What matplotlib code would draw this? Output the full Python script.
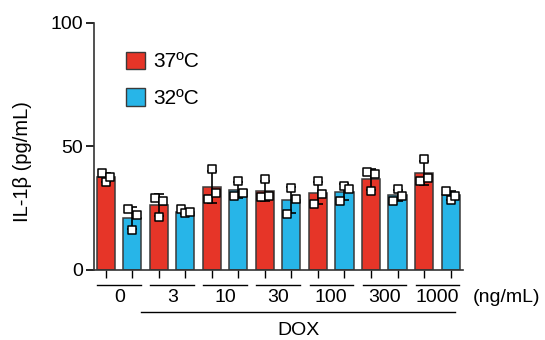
import numpy as np
import matplotlib
matplotlib.use("Agg")
import matplotlib.pyplot as plt
from matplotlib.patches import Patch

plt.rcParams['font.family'] = ['Liberation Sans', 'DejaVu Sans']

doses = ["0", "3", "10", "30", "100", "300", "1000"]
series = ["37ºC", "32ºC"]

# bar heights (mean)
mean_37 = [37.6, 26.3, 33.5, 32.0, 31.2, 36.8, 39.3]
mean_32 = [21.0, 23.6, 32.4, 28.3, 31.5, 30.2, 30.2]

# individual replicate points (left, middle, right)
pts_37 = [[39.4, 35.8, 37.5],
          [29.3, 21.3, 28.1],
          [28.6, 40.8, 31.3],
          [29.7, 36.8, 30.1],
          [26.7, 35.9, 30.8],
          [39.8, 32.0, 38.7],
          [36.0, 44.8, 37.4]]
pts_32 = [[24.7, 16.2, 22.3],
          [24.7, 22.9, 23.5],
          [30.0, 35.9, 31.3],
          [22.7, 33.1, 28.7],
          [28.1, 34.0, 32.8],
          [28.1, 32.7, 30.1],
          [32.1, 28.3, 30.1]]

red = "#E63528"
blue = "#27B5E8"
FS = 14

fig = plt.figure(figsize=(5.45, 3.4), dpi=100)
ax = fig.add_axes([0.1725, 0.2059, 0.677, 0.7265])

n = len(doses)
x37 = np.arange(n) * 2
x32 = x37 + 1
w = 0.68
for xs, means, pts, col in [(x37, mean_37, pts_37, red), (x32, mean_32, pts_32, blue)]:
    ax.bar(xs, means, width=w, color=col, edgecolor="#3a3a3a", linewidth=1.1, zorder=2)
    sd = [np.std(p, ddof=1) for p in pts]
    ax.errorbar(xs, means, yerr=sd, fmt="none", ecolor="black", elinewidth=1.2,
                capsize=3.5, capthick=1.2, zorder=3)
    for xi, p in zip(xs, pts):
        ax.scatter(np.array([-0.16, 0.0, 0.16]) + xi, p, marker="s", s=30,
                   facecolor="white", edgecolor="black", linewidth=1.1, zorder=4)

ax.set_ylim(0, 100)
ax.set_yticks([0, 50, 100])
ax.set_xlim(-0.45, 13.47)
ax.set_xticks(np.arange(2 * n))
ax.set_xticklabels([])
ax.tick_params(axis="y", labelsize=FS, length=6, width=1.2, pad=2)
ax.tick_params(axis="x", length=6, width=1.0)
for s in ["top", "right"]:
    ax.spines[s].set_visible(False)
ax.spines["left"].set_linewidth(1.2)
ax.spines["bottom"].set_linewidth(1.2)
ax.spines["left"].set_color("#333333")
ax.spines["bottom"].set_color("#333333")
ax.set_ylabel("IL-1β (pg/mL)", fontsize=14.5)
ax.yaxis.set_label_coords(-0.167, 0.44)

trans = ax.get_xaxis_transform()
for i, d in enumerate(doses):
    c = 2 * i + 0.5
    ax.plot([c - 0.82, c + 0.82], [-0.061, -0.061], color="black", lw=1.0,
            transform=trans, clip_on=False)
    ax.text(c, -0.113, d, transform=trans, ha="center", va="center", fontsize=FS)
ax.plot([1.32, 13.17], [-0.17, -0.17], color="black", lw=1.0, transform=trans, clip_on=False)
ax.text(7.25, -0.243, "DOX", transform=trans, ha="center", va="center", fontsize=FS)
ax.text(13.85, -0.113, "(ng/mL)", transform=trans, ha="left", va="center", fontsize=FS)

handles = [Patch(facecolor=red, edgecolor="#3a3a3a", linewidth=1.0),
           Patch(facecolor=blue, edgecolor="#3a3a3a", linewidth=1.0)]
leg = ax.legend(handles, series, loc="upper left", bbox_to_anchor=(0.064, 0.918),
                frameon=False, fontsize=15, handlelength=0.9, handleheight=0.9,
                handletextpad=0.4, labelspacing=0.82, borderaxespad=0)

fig.savefig("out.png", dpi=100)
